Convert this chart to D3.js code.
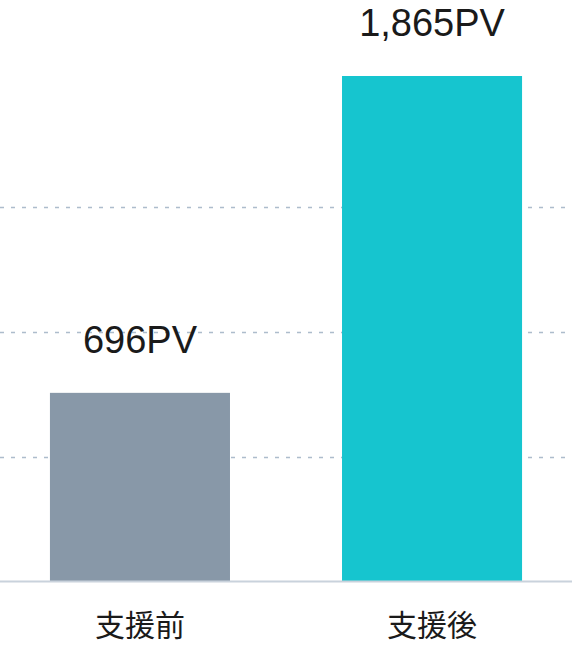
<!DOCTYPE html>
<html>
<head>
<meta charset="utf-8">
<script src="https://cdn.jsdelivr.net/npm/d3@7"></script>
<style>
  html, body { margin: 0; padding: 0; background: #fff; }
  svg { display: block; }
</style>
</head>
<body>
<svg id="chart" width="572" height="648"></svg>
<script>
// data
var categories = ['支援前', '支援後'];
var pageViews = [696, 1865];
var valueLabels = ['696PV', '1,865PV'];
var barColors = ['#8898a8', '#16c5cf'];
var gridValues = [460, 920, 1380];

var width = 572, height = 648;
var baseline = 581.5, topY = 76;

var svg = d3.select('#chart');

var x = d3.scaleBand()
    .domain(categories)
    .range([0, width])
    .paddingInner(0.3836)
    .paddingOuter(0.171);

var y = d3.scaleLinear()
    .domain([0, d3.max(pageViews)])
    .range([baseline, topY]);

// dotted gridlines
svg.append('g')
    .selectAll('line')
    .data(gridValues)
    .enter().append('line')
    .attr('x1', 0)
    .attr('x2', width)
    .attr('y1', function (d) { return Math.round(y(d)) + 0.5; })
    .attr('y2', function (d) { return Math.round(y(d)) + 0.5; })
    .attr('stroke', '#adbccc')
    .attr('stroke-width', 1.5)
    .attr('stroke-dasharray', '4,7');

// bars
svg.append('g')
    .selectAll('rect')
    .data(pageViews)
    .enter().append('rect')
    .attr('x', function (d, i) { return x(categories[i]); })
    .attr('y', function (d) { return y(d); })
    .attr('width', x.bandwidth())
    .attr('height', function (d) { return y(0) - y(d); })
    .attr('fill', function (d, i) { return barColors[i]; });

// baseline
svg.append('line')
    .attr('x1', 0)
    .attr('x2', width)
    .attr('y1', y(0))
    .attr('y2', y(0))
    .attr('stroke', '#c9d2dc')
    .attr('stroke-width', 2);

// value labels above bars
svg.append('g')
    .selectAll('text')
    .data(pageViews)
    .enter().append('text')
    .attr('x', function (d, i) { return x(categories[i]) + x.bandwidth() / 2; })
    .attr('y', function (d) { return y(d) - 40; })
    .attr('text-anchor', 'middle')
    .attr('font-family', '"Liberation Sans", Arial, sans-serif')
    .attr('font-size', 38)
    .attr('fill', '#1a1a1a')
    .text(function (d, i) { return valueLabels[i]; });

// category labels
svg.append('g')
    .selectAll('text')
    .data(categories)
    .enter().append('text')
    .attr('x', function (d) { return x(d) + x.bandwidth() / 2; })
    .attr('y', 636)
    .attr('text-anchor', 'middle')
    .attr('font-family', '"Noto Sans CJK JP", sans-serif')
    .attr('font-size', 30)
    .attr('fill', '#1a1a1a')
    .text(function (d) { return d; });
</script>
</body>
</html>
